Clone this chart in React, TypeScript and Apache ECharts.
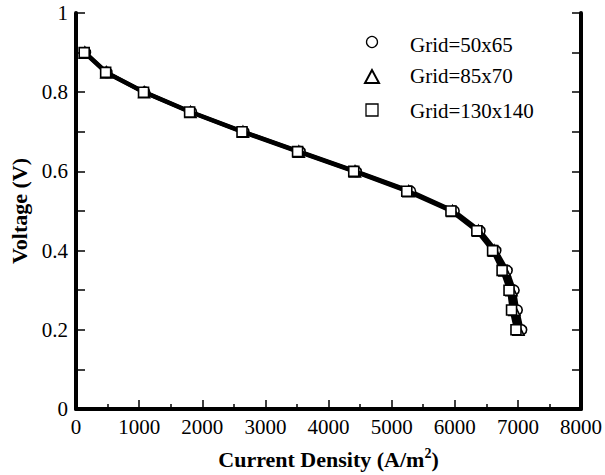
import React, { useEffect, useRef } from "react";
import * as echarts from "echarts";

const voltage = [0.9, 0.85, 0.8, 0.75, 0.7, 0.65, 0.6, 0.55, 0.5, 0.45, 0.4, 0.35, 0.3, 0.25, 0.2];
const current50x65 = [150, 490, 1090, 1830, 2660, 3550, 4440, 5300, 5990, 6400, 6650, 6830, 6940, 6990, 7060];
const current85x70 = [140, 480, 1080, 1815, 2645, 3530, 4420, 5270, 5965, 6375, 6625, 6790, 6900, 6945, 7010];
const current130x140 = [130, 470, 1070, 1800, 2630, 3510, 4400, 5240, 5940, 6350, 6600, 6750, 6860, 6900, 6970];
const seriesNames = ["Grid=50x65", "Grid=85x70", "Grid=130x140"];
const seriesSymbols = ["circle", "triangle", "rect"];

const FONT = "Liberation Serif";

export default function App() {
  const ref = useRef<HTMLDivElement>(null);
  useEffect(() => {
    if (!ref.current) return;
    const chart = echarts.init(ref.current, null, { renderer: "svg" });
    const currents = [current50x65, current85x70, current130x140];
    const series = currents.map((c, i) => ({
      name: seriesNames[i],
      type: "line",
      data: c.map((x, j) => [x, voltage[j]]),
      symbol: seriesSymbols[i],
      symbolSize: i === 1 ? 11 : 10,
      showSymbol: true,
      lineStyle: { color: "#000", width: 4 },
      itemStyle: { color: "#fff", borderColor: "#000", borderWidth: 1.6 },
      z: 2 + i,
    }));
    const legendX = 372;
    const legendText = 410;
    const rows = [42, 77, 110];
    const graphics: any[] = [
      { type: "circle", shape: { cx: legendX, cy: rows[0], r: 5.5 }, style: { fill: "#fff", stroke: "#000", lineWidth: 1.3 } },
      { type: "polygon", shape: { points: [[legendX, rows[1] - 7], [legendX - 7, rows[1] + 6], [legendX + 7, rows[1] + 6]] }, style: { fill: "#fff", stroke: "#000", lineWidth: 2 } },
      { type: "rect", shape: { x: legendX - 6, y: rows[2] - 6, width: 12, height: 12 }, style: { fill: "#fff", stroke: "#000", lineWidth: 1.3 } },
    ];
    const textRows = [45, 76, 111];
    seriesNames.forEach((n, i) => {
      graphics.push({
        type: "text",
        x: legendText,
        y: textRows[i],
        style: { text: n, fontFamily: FONT, fontSize: 21, fill: "#000", verticalAlign: "middle" },
      });
    });
    chart.setOption({
      animation: false,
      backgroundColor: "#fff",
      grid: { left: 75, right: 22, top: 13, bottom: 62, containLabel: false },
      xAxis: {
        type: "value",
        min: 0,
        max: 8000,
        interval: 1000,
        name: "Current Density (A/m{sup|2})",
        nameLocation: "middle",
        nameGap: 37,
        nameTextStyle: {
          fontFamily: FONT,
          fontSize: 22,
          fontWeight: "bold",
          color: "#000",
          rich: {
            sup: { fontFamily: FONT, fontSize: 14, fontWeight: "bold", color: "#000", verticalAlign: "top", padding: [0, 0, 12, 0] },
          },
        },
        axisLine: { show: true, lineStyle: { color: "#000", width: 4 } },
        axisTick: { show: true, inside: true, length: 9, lineStyle: { color: "#000", width: 1.5 } },
        minorTick: { show: true, splitNumber: 2, length: 5, lineStyle: { color: "#000", width: 1.5 } },
        splitLine: { show: false },
        minorSplitLine: { show: false },
        axisLabel: { fontFamily: FONT, fontSize: 21, color: "#000", margin: 7, formatter: (v: number) => String(v) },
      },
      yAxis: [
        {
          type: "value",
          min: 0,
          max: 1,
          interval: 0.1,
          name: "Voltage (V)",
          nameLocation: "middle",
          nameGap: 46,
          nameTextStyle: { fontFamily: FONT, fontSize: 22, fontWeight: "bold", color: "#000" },
          axisLine: { show: true, lineStyle: { color: "#000", width: 4 } },
          axisTick: { show: true, inside: true, length: 9, lineStyle: { color: "#000", width: 1.5 } },
          splitLine: { show: false },
          axisLabel: {
            fontFamily: FONT,
            fontSize: 21,
            color: "#000",
            margin: 8,
            formatter: (v: number) => {
              const t = Math.round(v * 10);
              if (t % 2 !== 0) return "";
              return t === 0 ? "0" : t === 10 ? "1" : (t / 10).toFixed(1);
            },
          },
        },
        {
          type: "value",
          position: "right",
          min: 0,
          max: 1,
          interval: 0.1,
          axisLine: { show: true, lineStyle: { color: "#000", width: 4 } },
          axisTick: { show: true, inside: true, length: 9, lineStyle: { color: "#000", width: 1.5 } },
          splitLine: { show: false },
          axisLabel: { show: false },
        },
      ],
      series,
      graphic: graphics,
    });
    return () => chart.dispose();
  }, []);
  return <div ref={ref} style={{ width: 605, height: 475, position: "absolute", left: 0, top: 0 }} />;
}
